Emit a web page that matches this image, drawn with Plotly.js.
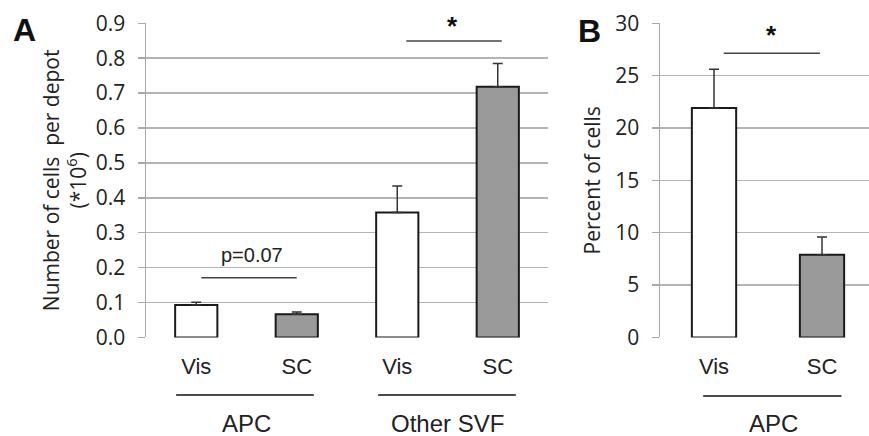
<!DOCTYPE html>
<html>
<head>
<meta charset="utf-8">
<script src="https://cdn.plot.ly/plotly-3.0.1.min.js"></script>
<style>html,body{margin:0;padding:0;background:#fff;}#chart{width:869px;height:436px;}</style>
</head>
<body>
<div id="chart"></div>
<script>
// Panel A data
var catsA = ["APC Vis", "APC SC", "SVF Vis", "SVF SC"];
var tickLabelsA = ["Vis", "SC", "Vis", "SC"];
var valuesA = [0.093, 0.066, 0.358, 0.718];
var errorsA = [0.008, 0.007, 0.076, 0.067];
var groupsA = ["APC", "Other SVF"];
// Panel B data
var catsB = ["B Vis", "B SC"];
var tickLabelsB = ["Vis", "SC"];
var valuesB = [21.9, 7.9];
var errorsB = [3.7, 1.7];
var groupsB = ["APC"];
var colorsA = ["#ffffff", "#9a9a9a", "#ffffff", "#9a9a9a"];
var colorsB = ["#ffffff", "#9a9a9a"];

var W = 869, H = 436;
function px(x){ return x / W; }
function py(y){ return (H - y) / H; }

var tickFont = {family: "Open Sans", size: 21, color: "#222"};
var catFont = {family: "Liberation Sans, Arial", size: 22, color: "#222"};

var traceA = {
  type: "bar", x: catsA, y: valuesA, xaxis: "x", yaxis: "y",
  width: 0.42,
  marker: {color: colorsA, line: {color: "#1a1a1a", width: 2}},
  error_y: {type: "data", symmetric: false, array: errorsA, arrayminus: [0,0,0,0], color: "#333", thickness: 1.5, width: 5},
  hoverinfo: "skip", showlegend: false
};
var traceB = {
  type: "bar", x: catsB, y: valuesB, xaxis: "x2", yaxis: "y2",
  width: 0.41,
  marker: {color: colorsB, line: {color: "#1a1a1a", width: 2}},
  error_y: {type: "data", symmetric: false, array: errorsB, arrayminus: [0,0], color: "#333", thickness: 1.5, width: 5},
  hoverinfo: "skip", showlegend: false
};

var lineStyle = {color: "#444", width: 1.5};
var shapes = [
  // significance lines
  {type: "line", xref: "x", yref: "y", x0: 0.05, x1: 1.0, y0: 0.171, y1: 0.171, line: lineStyle},
  {type: "line", xref: "x", yref: "y", x0: 2.09, x1: 3.04, y0: 0.849, y1: 0.849, line: lineStyle},
  {type: "line", xref: "x2", yref: "y2", x0: 0.09, x1: 0.98, y0: 27.15, y1: 27.15, line: lineStyle},
  // group lines
  {type: "line", xref: "x", yref: "paper", x0: -0.2, x1: 1.17, y0: py(395), y1: py(395), line: {color: "#111", width: 1.5}},
  {type: "line", xref: "x", yref: "paper", x0: 1.81, x1: 3.18, y0: py(395), y1: py(395), line: {color: "#111", width: 1.5}},
  {type: "line", xref: "x2", yref: "paper", x0: -0.1, x1: 1.18, y0: py(396), y1: py(396), line: {color: "#111", width: 1.5}}
];

var groupFont = {family: "Liberation Sans, Arial", size: 24, color: "#222"};
var annotations = [
  {xref: "x", yref: "paper", x: 0.5, y: 0, yshift: -3, text: groupsA[0], showarrow: false, font: groupFont, xanchor: "center", yanchor: "bottom"},
  {xref: "x", yref: "paper", x: 2.5, y: 0, yshift: -3, text: groupsA[1], showarrow: false, font: groupFont, xanchor: "center", yanchor: "bottom"},
  {xref: "x2", yref: "paper", x: 0.55, y: 0, yshift: -3, text: groupsB[0], showarrow: false, font: groupFont, xanchor: "center", yanchor: "bottom"},
  {xref: "x", yref: "y", x: 0.55, y: 0.236, text: "p=0.07", showarrow: false, font: {family: "Liberation Sans, Arial", size: 20, color: "#222"}, xanchor: "center", yanchor: "middle"},
  {xref: "x", yref: "paper", x: 2.55, y: py(26), text: "*", showarrow: false, font: {family: "Liberation Sans, Arial", size: 26, color: "#111", weight: "bold"}, xanchor: "center", yanchor: "middle"},
  {xref: "x2", yref: "paper", x: 0.53, y: py(35), text: "*", showarrow: false, font: {family: "Liberation Sans, Arial", size: 26, color: "#111", weight: "bold"}, xanchor: "center", yanchor: "middle"},
  {xref: "paper", yref: "paper", x: px(24), y: py(30), text: "<b>A</b>", showarrow: false, font: {family: "Liberation Sans, Arial", size: 32, color: "#111"}, xanchor: "center", yanchor: "middle"},
  {xref: "paper", yref: "paper", x: px(589), y: py(31), text: "<b>B</b>", showarrow: false, font: {family: "Liberation Sans, Arial", size: 32, color: "#111"}, xanchor: "center", yanchor: "middle"}
];

var axY = {
  showgrid: true, gridcolor: "#b4b4b4", gridwidth: 1.5,
  showline: true, linecolor: "#a8a8a8", linewidth: 1.5,
  ticks: "outside", ticklen: 7, tickcolor: "#a8a8a8", tickwidth: 1.5,
  ticklabelstandoff: 8,
  zeroline: false, tickfont: tickFont, fixedrange: true
};

var layout = {
  width: W, height: H,
  margin: {l: 0, r: 0, t: 0, b: 0},
  paper_bgcolor: "#fff", plot_bgcolor: "#fff",
  showlegend: false,
  xaxis: {domain: [px(146), px(548)], anchor: "y", type: "category", range: [-0.5, 3.5],
          tickvals: catsA, ticktext: tickLabelsA, tickfont: catFont, ticks: "", showline: false, showgrid: false, zeroline: false, ticklabelstandoff: 14, fixedrange: true},
  yaxis: Object.assign({}, axY, {domain: [py(337.4), py(23.3)], anchor: "x", range: [0, 0.9], dtick: 0.1, tickformat: ".1f",
          title: {text: "Number of cells  per depot<br>(*10<sup>6</sup>)", font: {family: "Open Sans", size: 21, color: "#222"}, standoff: 3}}),
  xaxis2: {domain: [px(660), 1], anchor: "y2", type: "category", range: [-0.5, 1.435],
          tickvals: catsB, ticktext: tickLabelsB, tickfont: catFont, ticks: "", showline: false, showgrid: false, zeroline: false, ticklabelstandoff: 14, fixedrange: true},
  yaxis2: Object.assign({}, axY, {domain: [py(337.4), py(23.3)], anchor: "x2", range: [0, 30], dtick: 5,
          title: {text: "Percent of cells", font: {family: "Open Sans", size: 21, color: "#222"}, standoff: 9}}),
  shapes: shapes,
  annotations: annotations
};

Plotly.newPlot("chart", [traceA, traceB], layout, {displayModeBar: false, staticPlot: true});
</script>
</body>
</html>
